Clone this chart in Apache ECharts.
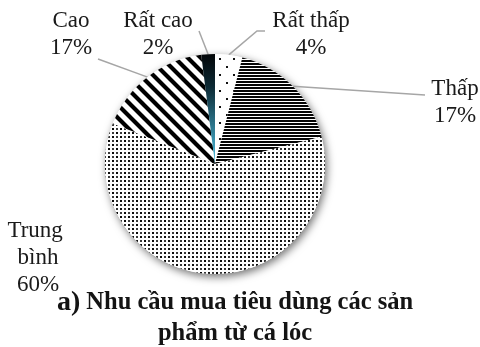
<!DOCTYPE html>
<html>
<head>
<meta charset="utf-8">
<script src="https://cdn.jsdelivr.net/npm/echarts@6/dist/echarts.min.js"></script>
<style>
  html, body { margin: 0; padding: 0; background: #fff; }
  #chart { width: 480px; height: 347px; }
</style>
</head>
<body>
<div id="chart"></div>
<script>
// Survey data: consumer demand for snakehead fish products
const categories = ['Rất thấp', 'Thấp', 'Trung bình', 'Cao', 'Rất cao'];
const shares = [4, 17, 60, 17, 2];
const titleLines = ['Nhu cầu mua tiêu dùng các sản', 'phẩm từ cá lóc'];

// Where each slice label sits, how wide it may wrap, and the bend/end of its leader line
const labelSpots = [
  { x: 311, y: 34, width: null, line: [[257, 31], [265, 31]] },
  { x: 455, y: 102, width: null, line: [[425, 95]] },
  { x: 38, y: 258, width: 62, line: null },
  { x: 71, y: 34, width: null, line: [[98, 59]] },
  { x: 158, y: 34, width: null, line: [[199, 31]] }
];

function tile(w, h, draw) {
  const c = document.createElement('canvas');
  c.width = w; c.height = h;
  const g = c.getContext('2d');
  g.fillStyle = '#fff';
  g.fillRect(0, 0, w, h);
  draw(g);
  return { image: c, repeat: 'repeat' };
}

// sparse dots
const sparseDots = tile(14, 16, g => {
  g.fillStyle = '#111';
  g.fillRect(2, 2, 2, 2);
  g.fillRect(9, 10, 2, 2);
});

// horizontal stripes
const hStripes = tile(4, 3, g => {
  g.fillStyle = '#050505';
  g.fillRect(0, 0, 4, 2);
});

// dense dot screen
const denseDots = tile(8, 8, g => {
  g.fillStyle = '#0a0a0a';
  g.fillRect(0, 0, 2, 2);
  g.fillRect(4, 4, 2, 2);
  g.fillStyle = '#3a3a3a';
  g.fillRect(4, 0, 2, 2);
  g.fillRect(0, 4, 2, 2);
});

// wide diagonal stripes (top-left to bottom-right)
const dStripes = tile(13, 13, g => {
  g.strokeStyle = '#000';
  g.lineWidth = 4.2;
  g.beginPath();
  [-13, 0, 13].forEach(dx => {
    g.moveTo(dx - 3, -3);
    g.lineTo(dx + 16, 16);
  });
  g.stroke();
});

const darkBlue = {
  type: 'linear', x: 0, y: 0, x2: 0, y2: 1,
  colorStops: [
    { offset: 0, color: '#030608' },
    { offset: 0.3, color: '#0c2a35' },
    { offset: 1, color: '#4cc0e2' }
  ]
};

const fills = [sparseDots, hStripes, denseDots, dStripes, darkBlue];

const center = [215, 164];
const radius = 110;

const chart = echarts.init(document.getElementById('chart'), null, { renderer: 'canvas' });

chart.setOption({
  animation: false,
  backgroundColor: '#fff',
  title: {
    text: '{a|a)} ' + titleLines[0] + '\n' + titleLines[1],
    left: 235,
    top: 287,
    textAlign: 'center',
    padding: 0,
    textStyle: {
      fontFamily: 'Liberation Serif',
      fontWeight: 'bold',
      fontSize: 24.5,
      lineHeight: 31,
      color: '#141414',
      rich: {
        a: { fontFamily: 'Liberation Serif', fontWeight: 'bold', fontSize: 28, lineHeight: 31, color: '#141414' }
      }
    }
  },
  series: [
    {
      // white disc carrying the drop shadow beneath the slices
      type: 'pie',
      silent: true,
      z: 1,
      center: center,
      radius: radius,
      label: { show: false },
      labelLine: { show: false },
      data: [{
        value: 1,
        itemStyle: {
          color: '#fff',
          shadowBlur: 8,
          shadowOffsetX: 2,
          shadowOffsetY: 3,
          shadowColor: 'rgba(0,0,0,0.55)'
        }
      }]
    },
    {
      type: 'pie',
      z: 2,
      center: center,
      radius: radius,
      startAngle: 90,
      clockwise: true,
      silent: true,
      itemStyle: { borderWidth: 0 },
      label: {
        show: true,
        position: 'outside',
        formatter: '{b}\n{c}%',
        fontFamily: 'Liberation Serif',
        fontSize: 23,
        lineHeight: 27,
        color: '#1a1a1a',
        align: 'center'
      },
      labelLine: {
        show: true,
        length: 10,
        length2: 10,
        smooth: false,
        lineStyle: { color: '#a6a6a6', width: 1.5 }
      },
      labelLayout: function (p) {
        const spot = labelSpots[p.dataIndex];
        const out = { x: spot.x, y: spot.y, align: 'center', verticalAlign: 'middle' };
        if (spot.line && p.labelLinePoints) {
          out.labelLinePoints = [p.labelLinePoints[0]].concat(spot.line);
        }
        return out;
      },
      data: categories.map((name, i) => {
        const item = {
          name: name,
          value: shares[i],
          itemStyle: { color: fills[i] },
          labelLine: { show: labelSpots[i].line !== null }
        };
        if (labelSpots[i].width) {
          item.label = { width: labelSpots[i].width, overflow: 'break' };
        }
        return item;
      })
    }
  ]
});
</script>
</body>
</html>
